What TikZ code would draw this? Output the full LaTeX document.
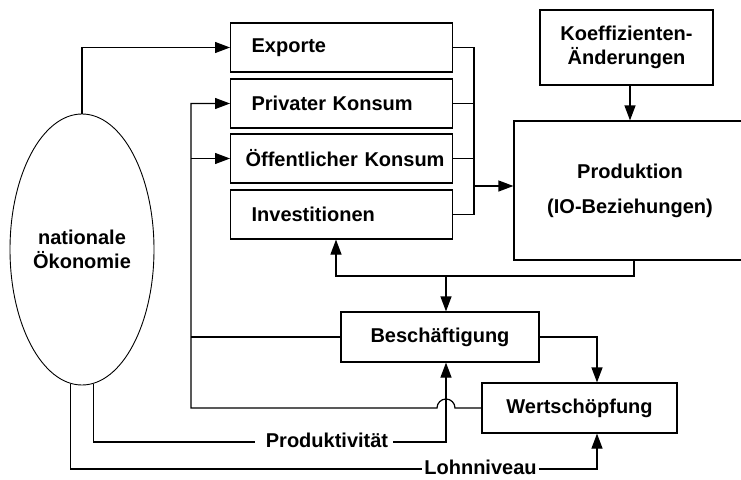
\documentclass[tikz,border=0pt]{standalone}
\usepackage{fontspec}
\setmainfont{Liberation Sans}
\usetikzlibrary{arrows.meta,shapes.geometric}
\begin{document}
\begin{tikzpicture}[x=1pt,y=-1pt,
  every node/.style={font=\bfseries\fontsize{20}{24}\selectfont},
  line/.style={line width=1.2pt},
  arr/.style={-{Triangle[length=15pt,width=11pt]}},
  box/.style={draw, line width=1.2pt, inner sep=0pt},
  catbox/.style={box, minimum width=222pt, minimum height=49pt, anchor=west,
    text width=180pt, inner xsep=21pt, align=left},
  lbl/.style={anchor=base, inner sep=0pt}]
\useasboundingbox (0,0) rectangle (741,479);
% boxes
\node[catbox] (exp) at (230,47.5) {Exporte};
\node[catbox] (priv) at (230,103.5) {Privater Konsum};
\node[catbox, inner xsep=15pt, text width=192pt] (oeff) at (230,158.5) {\mbox{Öffentlicher Konsum}};
\node[catbox] (inv) at (230,214.5) {Investitionen};
\node[box, minimum width=173pt, minimum height=75pt, align=center] (koef) at (626.5,47.5) {Koeffizienten-\\Änderungen};
\node[box, minimum width=232pt, minimum height=139pt, align=center,
  font=\bfseries\fontsize{20}{35}\selectfont] (prod) at (630,190.5) {Produktion\\(IO-Beziehungen)};
\node[box, minimum width=198pt, minimum height=50pt] (besch) at (440,337) {Beschäftigung};
\node[box, minimum width=195pt, minimum height=50pt] (wert) at (579.5,408) {Wertschöpfung};
\node[draw, ellipse, line width=0.9pt, minimum width=144pt, minimum height=271pt,
  align=center, inner sep=0pt] (ell) at (82,249.5) {nationale\\Ökonomie};
\node[lbl] (prodl) at (327,447.5) {Produktivität};
\node[lbl] (lohn) at (480.5,474) {Lohnniveau};
% helper coordinates
\coordinate (bus) at (474,0);
\coordinate (ay) at (0,186);
\coordinate (yb) at (0,276);
\coordinate (ix) at (336,0);
\coordinate (ja) at (446,0);
\coordinate (jr) at (455,0);
\coordinate (fb) at (191,0);
\coordinate (wx) at (597,0);
% connectors
\draw[line,arr] (ell.north) |- (exp.west);
\draw[line] (exp.east) -| (inv.east -| bus) -- (inv.east);
\draw[line] (priv.east) -- (priv.east -| bus);
\draw[line] (oeff.east) -- (oeff.east -| bus);
\draw[line,arr] (bus |- ay) -- (prod.west |- ay);
\draw[line,arr] ([xshift=3.5pt]koef.south) -- ([xshift=3.5pt]koef.south |- prod.north);
\draw[line,arr] ([xshift=4pt]prod.south) -- ([xshift=4pt]prod.south |- yb) -| (inv.south -| ix);
\draw[line,arr] (ja |- yb) -- (besch.north -| ja);
\draw[line,arr] (besch.east) -| (wert.north -| wx);
\draw[line,arr] (wert.west) -- (wert.west -| jr) arc[start angle=0, end angle=180, radius=9pt]
  -- (wert.west -| fb) |- (priv.west);
\draw[line,arr] (oeff.west -| fb) -- (oeff.west);
\draw[line] (besch.west) -- (besch.west -| fb);
\draw[line] (ell.-85) |- ([xshift=-11pt,yshift=5.5pt]prodl.base west);
\draw[line,arr] ([xshift=5pt,yshift=5.5pt]prodl.base east) -| (besch.south -| ja);
\draw[line] (ell.-95) |- ([xshift=-2pt,yshift=5pt]lohn.base west);
\draw[line,arr] ([xshift=2pt,yshift=5pt]lohn.base east) -| (wert.south -| wx);
\end{tikzpicture}
\end{document}
